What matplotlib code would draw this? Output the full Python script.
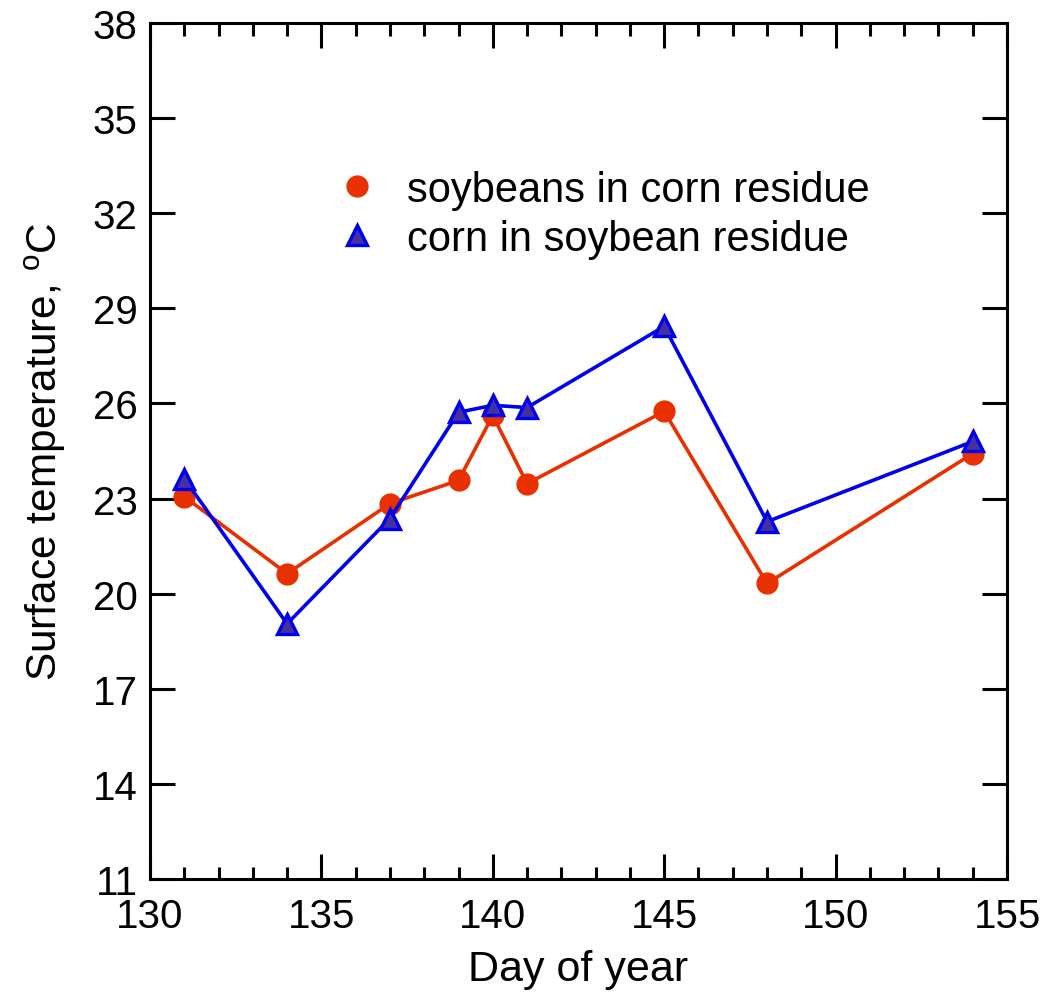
import matplotlib
matplotlib.use("Agg")
import matplotlib.pyplot as plt
from matplotlib.lines import Line2D
from matplotlib.ticker import MultipleLocator

plt.rcParams['font.family'] = ['Liberation Sans', 'DejaVu Sans']

days = [131, 134, 137, 139, 140, 141, 145, 148, 154]
soy_in_corn = [23.06, 20.63, 22.84, 23.57, 25.62, 23.47, 25.75, 20.32, 24.42]
corn_in_soy = [23.63, 19.05, 22.37, 25.72, 25.94, 25.87, 28.43, 22.27, 24.80]

x_ticks = [130, 135, 140, 145, 150, 155]
y_ticks = [11, 14, 17, 20, 23, 26, 29, 32, 35, 38]

red = '#E83000'
blue = '#0000EE'
blue_fill = '#4530A0'

fig = plt.figure(figsize=(10.48, 9.95), dpi=100)
ax = fig.add_axes([0.1431, 0.1156, 0.8178, 0.8603])

ax.plot(days, soy_in_corn, color=red, lw=2.6, marker='o', ms=15,
        mfc=red, mec=red, zorder=3)
ax.plot(days, corn_in_soy, color=blue, lw=2.6, marker='^', ms=15,
        mfc=blue_fill, mec=blue, mew=2.4, zorder=4)

ax.set_xlim(130, 155)
ax.set_ylim(11, 38)
ax.set_xticks(x_ticks)
ax.set_yticks(y_ticks)
ax.xaxis.set_minor_locator(MultipleLocator(1))

for s in ax.spines.values():
    s.set_linewidth(2.2)

ax.tick_params(axis='both', which='major', direction='in', length=18, width=2.2,
               labelsize=29, top=True, right=True)
ax.tick_params(axis='x', which='major', pad=13)
ax.tick_params(axis='y', which='major', pad=9)
ax.tick_params(axis='x', which='minor', direction='in', length=9, width=2.2,
               top=True, bottom=True)

ax.set_xlabel('Day of year', fontsize=31, labelpad=10)
ax.set_ylabel('Surface temperature, $^{\\mathregular{o}}$C', fontsize=30.5, labelpad=18)

handles = [
    Line2D([], [], ls='none', marker='o', ms=15, mfc=red, mec=red),
    Line2D([], [], ls='none', marker='^', ms=15, mfc=blue_fill, mec=blue, mew=2.4),
]
ax.legend(handles, ['soybeans in corn residue', 'corn in soybean residue'],
          loc='upper left', bbox_to_anchor=(0.2, 0.848), frameon=False,
          fontsize=30, handlelength=0.9, handletextpad=0.75, labelspacing=0.22,
          borderaxespad=0)

fig.savefig('out.png', dpi=100)
